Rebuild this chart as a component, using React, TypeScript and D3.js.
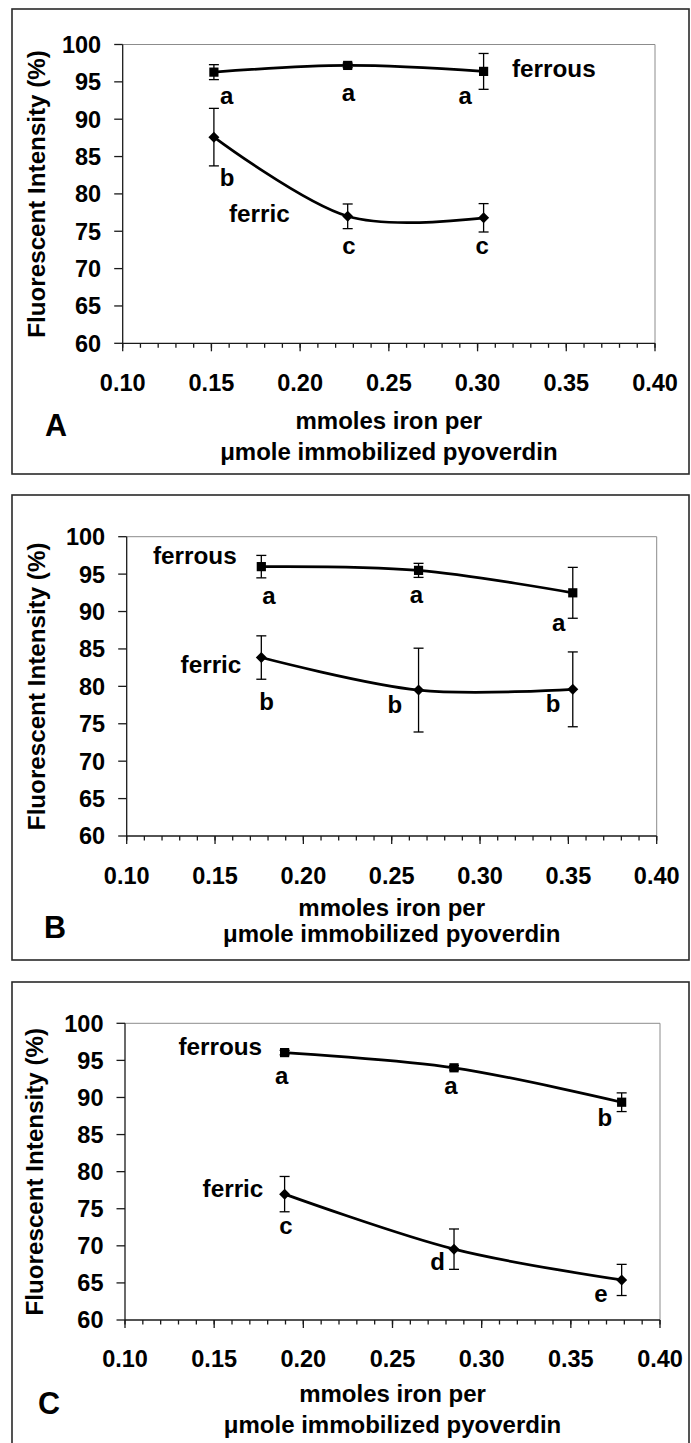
import React from "react";
import * as d3 from "d3";

// ---------- DATA ----------
const xTicks = [0.1, 0.15, 0.2, 0.25, 0.3, 0.35, 0.4];
const yTicks = [60, 65, 70, 75, 80, 85, 90, 95, 100];
const panelLetters = ["A", "B", "C"];
const seriesNames = ["ferrous", "ferric"];
const xTitle1 = "mmoles iron per";
const xTitle2 = "μmole immobilized pyoverdin";
const yTitle = "Fluorescent Intensity (%)";

// Panel A
const ironA = [0.1514, 0.2268, 0.3034];
const ferrousA = [96.3, 97.2, 96.4];
const ferrousErrA = [1.0, 0.3, 2.4];
const ferricA = [87.6, 77.0, 76.8];
const ferricErrA = [3.85, 1.65, 1.9];
const ferrousLetA = ["a", "a", "a"];
const ferricLetA = ["b", "c", "c"];

// Panel B
const ironB = [0.1762, 0.2652, 0.3525];
const ferrousB = [96.0, 95.5, 92.5];
const ferrousErrB = [1.5, 0.94, 3.4];
const ferricB = [83.85, 79.5, 79.6];
const ferricErrB = [2.9, 5.6, 5.0];
const ferrousLetB = ["a", "a", "a"];
const ferricLetB = ["b", "b", "b"];

// Panel C
const ironC = [0.1895, 0.2845, 0.3785];
const ferrousC = [96.05, 94.0, 89.36];
const ferrousErrC = [0.3, 0.3, 1.26];
const ferricC = [76.97, 69.55, 65.4];
const ferricErrC = [2.38, 2.72, 2.1];
const ferrousLetC = ["a", "a", "b"];
const ferricLetC = ["c", "d", "e"];

// ---------- LAYOUT ----------
const layouts = [
  {
    top: 9, pl: 122.7, pt: 44.5, pb: 343.3, pr: 655, tickY: 391, t1: 429.3, t2: 460,
    letX: 45, letY: 436, yTitleX: 45,
    ferrousLbl: [512, 77], ferricLbl: [229, 222],
    ferrousOff: [[12.7, 31.7], [0.7, 36], [-18.3, 32.3]],
    ferricOff: [[13.2, 48.7], [1.2, 38], [-1.3, 36.3]],
  },
  {
    top: 495, pl: 126.7, pt: 536.7, pb: 836, pr: 656.7, tickY: 883.5, t1: 915.5, t2: 941.5,
    letX: 44, letY: 938, yTitleX: 44.5,
    ferrousLbl: [153, 564], ferricLbl: [180.6, 672.7],
    ferrousOff: [[7.5, 37], [-2.2, 32.7], [-14.1, 37.7]],
    ferricOff: [[5.3, 52], [-23.8, 23], [-19.6, 22.7]],
  },
  {
    top: 982, pl: 125, pt: 1023.3, pb: 1320, pr: 660, tickY: 1366.5, t1: 1401.7, t2: 1432.7,
    letX: 38, letY: 1414, yTitleX: 43,
    ferrousLbl: [178.4, 1055], ferricLbl: [202.6, 1197.3],
    ferrousOff: [[-3, 31.3], [-3, 26.6], [-16.7, 23.3]],
    ferricOff: [[1.3, 40], [-16.4, 20.7], [-20.7, 22.4]],
  },
];

const panelData = [
  { x: ironA, fe2: ferrousA, fe2e: ferrousErrA, fe3: ferricA, fe3e: ferricErrA, l2: ferrousLetA, l3: ferricLetA },
  { x: ironB, fe2: ferrousB, fe2e: ferrousErrB, fe3: ferricB, fe3e: ferricErrB, l2: ferrousLetB, l3: ferricLetB },
  { x: ironC, fe2: ferrousC, fe2e: ferrousErrC, fe3: ferricC, fe3e: ferricErrC, l2: ferrousLetC, l3: ferricLetC },
];

const FONT = "'Liberation Sans', Arial, Helvetica, sans-serif";
const minorTicks = d3.range(10, 41).map((v) => v / 100);

function Panel({ i }: { i: number }) {
  const L = layouts[i];
  const D = panelData[i];
  const x = d3.scaleLinear().domain([0.1, 0.4]).range([L.pl, L.pr]);
  const y = d3.scaleLinear().domain([60, 100]).range([L.pb, L.pt]);
  const line = d3
    .line<[number, number]>()
    .x((d) => x(d[0]))
    .y((d) => y(d[1]))
    .curve(d3.curveCardinal.tension(0));
  const cx = (L.pl + L.pr) / 2;
  const cy = (L.pt + L.pb) / 2;

  const series = [
    { vals: D.fe2, errs: D.fe2e, lets: D.l2, off: L.ferrousOff, marker: "square" },
    { vals: D.fe3, errs: D.fe3e, lets: D.l3, off: L.ferricOff, marker: "diamond" },
  ];

  return (
    <g>
      <rect x={12} y={L.top} width={677} height={465} fill="#fff" stroke="#2a2a2a" strokeWidth={1.6} />
      {/* plot frame */}
      <line x1={L.pl} x2={L.pr} y1={L.pt} y2={L.pt} stroke="#8c8c8c" strokeWidth={1} />
      <line x1={L.pr} x2={L.pr} y1={L.pt} y2={L.pb} stroke="#8c8c8c" strokeWidth={1} />
      {/* y axis */}
      <line x1={L.pl} x2={L.pl} y1={L.pt} y2={L.pb} stroke="#1a1a1a" strokeWidth={1.3} />
      {yTicks.map((t) => (
        <g key={"yt" + t}>
          <line x1={L.pl - 8.5} x2={L.pl} y1={y(t)} y2={y(t)} stroke="#1a1a1a" strokeWidth={1.3} />
          <text x={L.pl - 21.5} y={y(t) + 8.4} textAnchor="end" fontSize={23.5} fontWeight="bold" fontFamily={FONT}>
            {t}
          </text>
        </g>
      ))}
      {/* x axis */}
      <line x1={L.pl} x2={L.pr} y1={L.pb} y2={L.pb} stroke="#1a1a1a" strokeWidth={1.3} />
      {minorTicks.map((t) => (
        <line key={"mt" + t} x1={x(t)} x2={x(t)} y1={L.pb} y2={L.pb + 4.5} stroke="#1a1a1a" strokeWidth={1.3} />
      ))}
      {xTicks.map((t) => (
        <g key={"xt" + t}>
          <line x1={x(t)} x2={x(t)} y1={L.pb} y2={L.pb + 8} stroke="#1a1a1a" strokeWidth={1.3} />
          <text x={x(t)} y={L.tickY} textAnchor="middle" fontSize={23.5} fontWeight="bold" fontFamily={FONT}>
            {t.toFixed(2)}
          </text>
        </g>
      ))}
      {/* titles */}
      <text
        transform={`translate(${L.yTitleX},${cy}) rotate(-90)`}
        textAnchor="middle"
        fontSize={24.2}
        fontWeight="bold"
        fontFamily={FONT}
      >
        {yTitle}
      </text>
      <text x={cx} y={L.t1} textAnchor="middle" fontSize={24} fontWeight="bold" fontFamily={FONT}>
        {xTitle1}
      </text>
      <text x={cx} y={L.t2} textAnchor="middle" fontSize={24} fontWeight="bold" fontFamily={FONT}>
        {xTitle2}
      </text>
      <text x={L.letX} y={L.letY} fontSize={30.5} fontWeight="bold" fontFamily={FONT}>
        {panelLetters[i]}
      </text>
      {/* series */}
      {series.map((s, si) => {
        const pts: [number, number][] = D.x.map((xv, k) => [xv, s.vals[k]]);
        return (
          <g key={"s" + si}>
            <path d={line(pts) || ""} fill="none" stroke="#000" strokeWidth={2.7} />
            {pts.map((p, k) => {
              const px = x(p[0]);
              const hi = y(p[1] + s.errs[k]);
              const lo = y(p[1] - s.errs[k]);
              return (
                <g key={"e" + k}>
                  <line x1={px} x2={px} y1={hi} y2={lo} stroke="#000" strokeWidth={1.3} />
                  <line x1={px - 5} x2={px + 5} y1={hi} y2={hi} stroke="#000" strokeWidth={1.3} />
                  <line x1={px - 5} x2={px + 5} y1={lo} y2={lo} stroke="#000" strokeWidth={1.3} />
                </g>
              );
            })}
            {pts.map((p, k) => {
              const px = x(p[0]);
              const py = y(p[1]);
              return s.marker === "square" ? (
                <rect key={"m" + k} x={px - 4.6} y={py - 4.6} width={9.2} height={9.2} fill="#000" />
              ) : (
                <path
                  key={"m" + k}
                  d={`M${px},${py - 5.5}L${px + 5.5},${py}L${px},${py + 5.5}L${px - 5.5},${py}Z`}
                  fill="#000"
                />
              );
            })}
            {pts.map((p, k) => (
              <text
                key={"l" + k}
                x={x(p[0]) + s.off[k][0]}
                y={y(p[1]) + s.off[k][1]}
                textAnchor="middle"
                fontSize={24}
                fontWeight="bold"
                fontFamily={FONT}
              >
                {s.lets[k]}
              </text>
            ))}
          </g>
        );
      })}
      <text x={L.ferrousLbl[0]} y={L.ferrousLbl[1]} fontSize={24.3} fontWeight="bold" fontFamily={FONT}>
        {seriesNames[0]}
      </text>
      <text x={L.ferricLbl[0]} y={L.ferricLbl[1]} fontSize={24.3} fontWeight="bold" fontFamily={FONT}>
        {seriesNames[1]}
      </text>
    </g>
  );
}

export default function App() {
  return (
    <svg
      width={691}
      height={1443}
      viewBox="0 0 691 1443"
      style={{ position: "absolute", left: 0, top: 0, background: "#fff" }}
    >
      <rect x={0} y={0} width={691} height={1443} fill="#fff" />
      {[0, 1, 2].map((i) => (
        <Panel key={i} i={i} />
      ))}
    </svg>
  );
}
